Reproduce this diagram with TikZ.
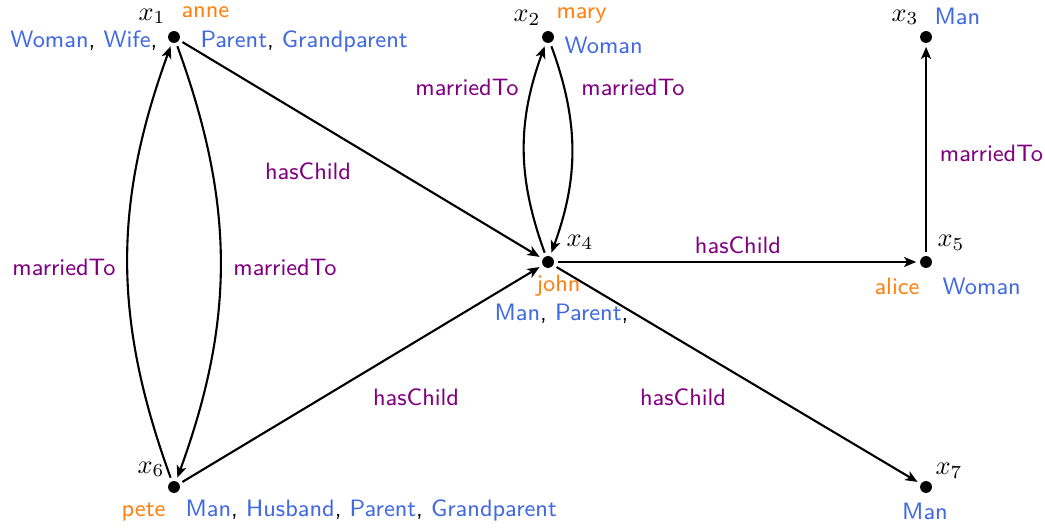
\documentclass[tikz,border=0pt]{standalone}
\usetikzlibrary{arrows.meta}
\definecolor{nm}{RGB}{255,128,14}
\definecolor{cls}{RGB}{65,105,225}
\definecolor{rel}{RGB}{128,0,128}
\newcommand{\cl}[1]{\textcolor{cls}{#1}}
\tikzset{
  dot/.style={circle,fill=black,inner sep=0pt,minimum size=4.5pt,outer sep=1.5pt},
  var/.style={inner sep=0pt,font=\normalsize},
  nmlbl/.style={inner sep=0pt,font=\small\sffamily,text=nm},
  clslbl/.style={inner sep=0pt,font=\small\sffamily},
  rellbl/.style={inner sep=0pt,font=\small\sffamily,text=rel},
  edge/.style={thick,-{Stealth[length=4.6pt,width=3.8pt,inset=1.2pt]}},
}
\begin{document}
\begin{tikzpicture}
\useasboundingbox (0,0) rectangle (13.933,-7.027);
% individuals
\node[dot] (x1) at (2.32,-0.493) {};
\node[dot] (x2) at (7.307,-0.493) {};
\node[dot] (x3) at (12.347,-0.493) {};
\node[dot] (x4) at (7.307,-3.493) {};
\node[dot] (x5) at (12.347,-3.493) {};
\node[dot] (x6) at (2.32,-6.493) {};
\node[dot] (x7) at (12.347,-6.493) {};
% x1
\node[var,anchor=base east] (v1) at (2.213,-0.267) {$x_1$};
\node[nmlbl,anchor=base west] (n1) at (2.413,-0.227) {anne};
\node[clslbl,anchor=base east] (c1a) at (2.107,-0.627) {\cl{Woman}, \cl{Wife},};
\node[clslbl,anchor=base west] (c1b) at (2.667,-0.627) {\cl{Parent}, \cl{Grandparent}};
% x2
\node[var,anchor=base east] (v2) at (7.213,-0.293) {$x_2$};
\node[nmlbl,anchor=base west] (n2) at (7.413,-0.24) {mary};
\node[clslbl,anchor=base west] (c2) at (7.52,-0.707) {\cl{Woman}};
% x3
\node[var,anchor=base east] (v3) at (12.253,-0.28) {$x_3$};
\node[clslbl,anchor=base west] (c3) at (12.453,-0.333) {\cl{Man}};
% x4
\node[var,anchor=base west] (v4) at (7.547,-3.28) {$x_4$};
\node[nmlbl,anchor=base west] (n4) at (7.147,-3.893) {john};
\node[clslbl,anchor=base west] (c4) at (6.587,-4.267) {\cl{Man}, \cl{Parent},};
% x5
\node[var,anchor=base west] (v5) at (12.493,-3.293) {$x_5$};
\node[nmlbl,anchor=base east] (n5) at (12.267,-3.933) {alice};
\node[clslbl,anchor=base west] (c5) at (12.56,-3.933) {\cl{Woman}};
% x6
\node[var,anchor=base east] (v6) at (2.2,-6.307) {$x_6$};
\node[nmlbl,anchor=base east] (n6) at (2.213,-6.88) {pete};
\node[clslbl,anchor=base west] (c6) at (2.467,-6.88) {\cl{Man}, \cl{Husband}, \cl{Parent}, \cl{Grandparent}};
% x7
\node[var,anchor=base west] (v7) at (12.467,-6.333) {$x_7$};
\node[clslbl,anchor=base] (c7) at (12.333,-6.92) {\cl{Man}};
% relations
\draw[edge] (x1) -- (x4);
\draw[edge] (x6) -- (x4);
\draw[edge] (x4) -- (x7);
\draw[edge] (x4) -- (x5);
\draw[edge] (x5) -- (x3);
\draw[edge] (x6) to[bend left=20] (x1);
\draw[edge] (x1) to[bend left=20] (x6);
\draw[edge] (x4) to[bend left=20] (x2);
\draw[edge] (x2) to[bend left=20] (x4);
% relation labels
\node[rellbl] (r14) at (4.107,-2.28) {hasChild};
\node[rellbl] (r64) at (5.547,-5.293) {hasChild};
\node[rellbl] (r47) at (9.107,-5.293) {hasChild};
\node[rellbl] (r45) at (9.84,-3.267) {hasChild};
\node[rellbl] (r53) at (13.22,-2.04) {marriedTo};
\node[rellbl] (r61) at (0.853,-3.56) {marriedTo};
\node[rellbl] (r16) at (3.8,-3.56) {marriedTo};
\node[rellbl] (r42) at (6.227,-1.16) {marriedTo};
\node[rellbl] (r24) at (8.44,-1.16) {marriedTo};
\end{tikzpicture}
\end{document}
